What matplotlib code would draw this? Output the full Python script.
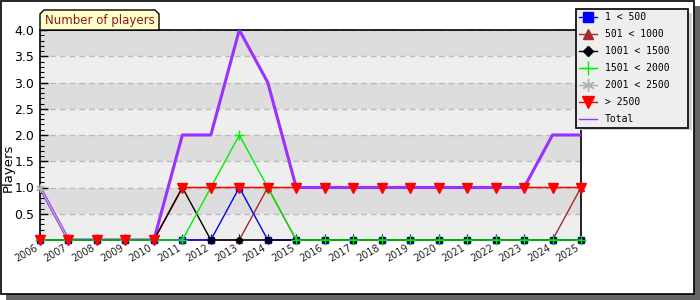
import matplotlib
matplotlib.use("Agg")
import matplotlib.pyplot as plt
from matplotlib.patches import Rectangle, Polygon
from matplotlib.lines import Line2D

years = list(range(2006, 2026))
s_1_500 =      [0,0,0,0,0,0,0,1,0,0,0,0,0,0,0,0,0,0,0,0]
s_501_1000 =   [0,0,0,0,0,0,0,0,1,0,0,0,0,0,0,0,0,0,0,1]
s_1001_1500 =  [0,0,0,0,0,1,0,0,0,0,0,0,0,0,0,0,0,0,0,0]
s_1501_2000 =  [0,0,0,0,0,0,1,2,1,0,0,0,0,0,0,0,0,0,0,0]
s_2001_2500 =  [1,0,0,0,0,0,0,0,0,0,0,0,0,0,0,0,0,0,0,0]
s_2500 =       [0,0,0,0,0,1,1,1,1,1,1,1,1,1,1,1,1,1,1,1]
total =        [1,0,0,0,0,2,2,4,3,1,1,1,1,1,1,1,1,1,2,2]
labels = ["1 < 500", "501 < 1000", "1001 < 1500", "1501 < 2000", "2001 < 2500", "> 2500", "Total"]
yticks = [0.5, 1.0, 1.5, 2.0, 2.5, 3.0, 3.5, 4.0]

fig = plt.figure(figsize=(7, 3), dpi=100)
# figure border + shadow
fig.patches.append(Rectangle((6/700, 0), 694/700, 294/300, transform=fig.transFigure,
                             facecolor="#666666", edgecolor="none", zorder=-10))
fig.patches.append(Rectangle((0.5/700, 6/300), 693/700, 293.5/300, transform=fig.transFigure,
                             facecolor="white", edgecolor="black", linewidth=1.2, zorder=-9))

ax = fig.add_axes([40/700, 60/300, 541/700, 210/300])
ax.set_xlim(years[0], years[-1])
ax.set_ylim(0, 4)
# bands
for i in range(8):
    ax.axhspan(i*0.5, (i+1)*0.5, color="#eeeeee" if i % 2 == 0 else "#dddddd", zorder=0, lw=0)
for y in yticks:
    ax.axhline(y, color="#bbbbbb", ls=(0, (4, 3)), lw=1, zorder=1)

ax.plot(years, s_2500, color="#ff0000", lw=1.1, zorder=2.5)
ax.plot(years, total, color="#9b30ff", lw=2.2, zorder=3)
ax.plot(years, s_2001_2500, color="#b0b0b0", lw=1, marker=(6, 2, 0), ms=6, mew=1, zorder=4, clip_on=False)
ax.plot(years, s_501_1000, color="#a52a2a", lw=1, marker="^", ms=5, zorder=4, clip_on=False)
ax.plot(years, s_1_500, color="#0000ff", lw=1, marker="s", ms=5, mfc="none", zorder=4, clip_on=False)
ax.plot(years, s_1001_1500, color="black", lw=1, marker="D", ms=3.5, zorder=5, clip_on=False)
ax.plot(years, s_1501_2000, color="#00ee00", lw=1, marker="+", ms=7, zorder=5, clip_on=False)
ax.plot(years, s_2500, color="#ff0000", lw=0, marker="v", ms=7, zorder=6, clip_on=False)

for s in ax.spines.values():
    s.set_color("black"); s.set_linewidth(1.2)
ax.set_yticks(yticks)
ax.set_yticklabels([f"{v:.1f}" for v in yticks], fontsize=9)
ax.set_yticks([i/10 for i in range(41)], minor=True)
ax.tick_params(axis="y", direction="in", length=6, width=1, pad=4)
ax.tick_params(axis="y", which="minor", direction="in", length=3, width=0.8)
ax.set_xticks(years)
ax.set_xticklabels([str(y) for y in years], rotation=30, ha="right", fontsize=7, color="#222222")
ax.tick_params(axis="x", direction="in", length=4, pad=2)
fig.text(8.5/700, 132/300, "Players", rotation=90, ha="center", va="center", fontsize=9.5)

# title tab
x0, x1, y0, y1, c = 40/700, 159/700, 270/300, 290/300, 4
poly = Polygon([(x0, y0), (x0, y1 - c/300), (x0 + c/700, y1), (x1 - c/700, y1), (x1, y1 - c/300), (x1, y0)],
               closed=True, transform=fig.transFigure, facecolor="#ffffcc", edgecolor="black", lw=1, zorder=5)
fig.patches.append(poly)
fig.text((x0 + x1)/2, (y0 + y1)/2 - 0.002, "Number of players", ha="center", va="center",
         fontsize=8.5, color="#8b1a1a", zorder=20)

# legend
handles = [
    Line2D([], [], color="#0000ff", marker="s", ms=7, lw=1),
    Line2D([], [], color="#a52a2a", marker="^", ms=7, lw=1),
    Line2D([], [], color="black", marker="D", ms=5, lw=1),
    Line2D([], [], color="#00ee00", marker="+", ms=10, lw=1),
    Line2D([], [], color="#b0b0b0", marker=(6, 2, 0), ms=9, lw=1),
    Line2D([], [], color="#ff0000", marker="v", ms=8, lw=1),
    Line2D([], [], color="#9b30ff", lw=1),
]
fig.patches.append(Rectangle((580/700, 170/300), 112/700, 117/300, transform=fig.transFigure,
                             facecolor="#d0d0d0", edgecolor="none", zorder=4))
leg = fig.legend(handles, labels, loc="upper left", bbox_to_anchor=(576/700, 174/300, 112/700, 117/300),
                 mode="expand", frameon=True, fancybox=False,
                 prop={"family": "DejaVu Sans Mono", "size": 7},
                 handlelength=1.8, handletextpad=0.8, labelspacing=0.72, borderpad=0.35,
                 borderaxespad=0)
leg.get_frame().set_facecolor("#eeeeee")
leg.get_frame().set_edgecolor("black")
leg.get_frame().set_linewidth(1.2)
leg.get_frame().set_alpha(1)
leg.set_zorder(10)

fig.savefig("out.png", dpi=100)
